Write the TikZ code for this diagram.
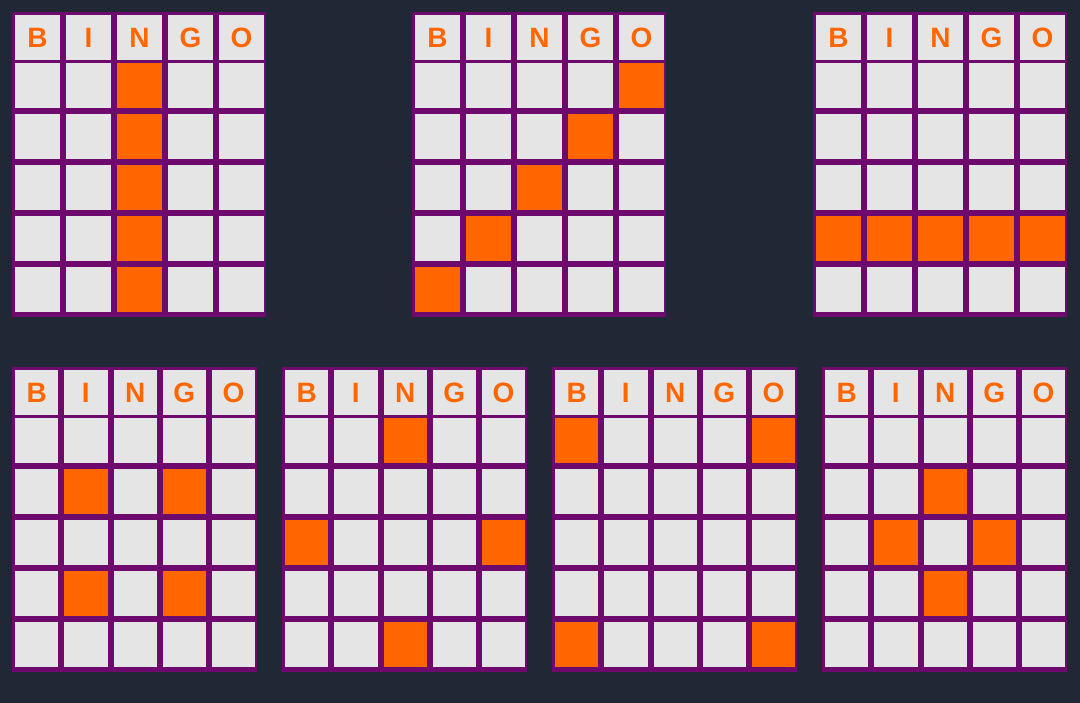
\documentclass[tikz,border=0pt]{standalone}
\usepackage{fontspec}
\setmainfont{Liberation Sans}
\definecolor{bgnavy}{HTML}{202836}
\definecolor{cardpurple}{HTML}{6E0A6E}
\definecolor{cellgray}{HTML}{E5E5E5}
\definecolor{markorange}{HTML}{FF6600}
\tikzset{
  backdrop/.style={fill=bgnavy},
  card/.style={fill=cardpurple},
  cell/.style={fill=cellgray},
  marked/.style={fill=markorange},
  letter/.style={font=\bfseries\fontsize{28}{28}\selectfont, text=markorange, inner sep=0pt}
}
% #1 name, #2 left, #3 top, #4 column pitch, #5 marked cells (row/column)
\newcommand{\bingocard}[5]{%
  \fill[card] (#2,#3) rectangle ++({5*#4-1},305);
  \foreach \ltr [count=\i from 0] in {B,I,N,G,O}{
    \fill[cell] ({#2+3+\i*#4},{#3+3}) rectangle ++({#4-6},45);
    \node[letter] (#1-\ltr) at ({#2+3+\i*#4+(#4-6)/2},{#3+25.5}) {\ltr};
    \foreach \r in {1,...,5}
      \fill[cell] ({#2+3+\i*#4},{#3+51*\r}) rectangle ++({#4-6},45);
  }
  \foreach \r/\c in {#5}
    \fill[marked] ({#2+3+(\c-1)*#4},{#3+51*\r}) rectangle ++({#4-6},45);
}

\begin{document}
\begin{tikzpicture}[x=1pt,y=-1pt]
  \fill[backdrop] (0,0) rectangle (1080,703);
  \useasboundingbox (0,0) rectangle (1080,703);
  % top row
  \bingocard{column}{12}{12}{51}{1/3,2/3,3/3,4/3,5/3}
  \bingocard{diagonal}{412}{12}{51}{1/5,2/4,3/3,4/2,5/1}
  \bingocard{row}{813}{12}{51}{4/1,4/2,4/3,4/4,4/5}
  % bottom row
  \bingocard{square}{12}{367}{49.25}{2/2,2/4,4/2,4/4}
  \bingocard{edges}{282}{367}{49.25}{1/3,3/1,3/5,5/3}
  \bingocard{corners}{552}{367}{49.25}{1/1,1/5,5/1,5/5}
  \bingocard{diamond}{822}{367}{49.25}{2/3,3/2,3/4,4/3}
\end{tikzpicture}
\end{document}
